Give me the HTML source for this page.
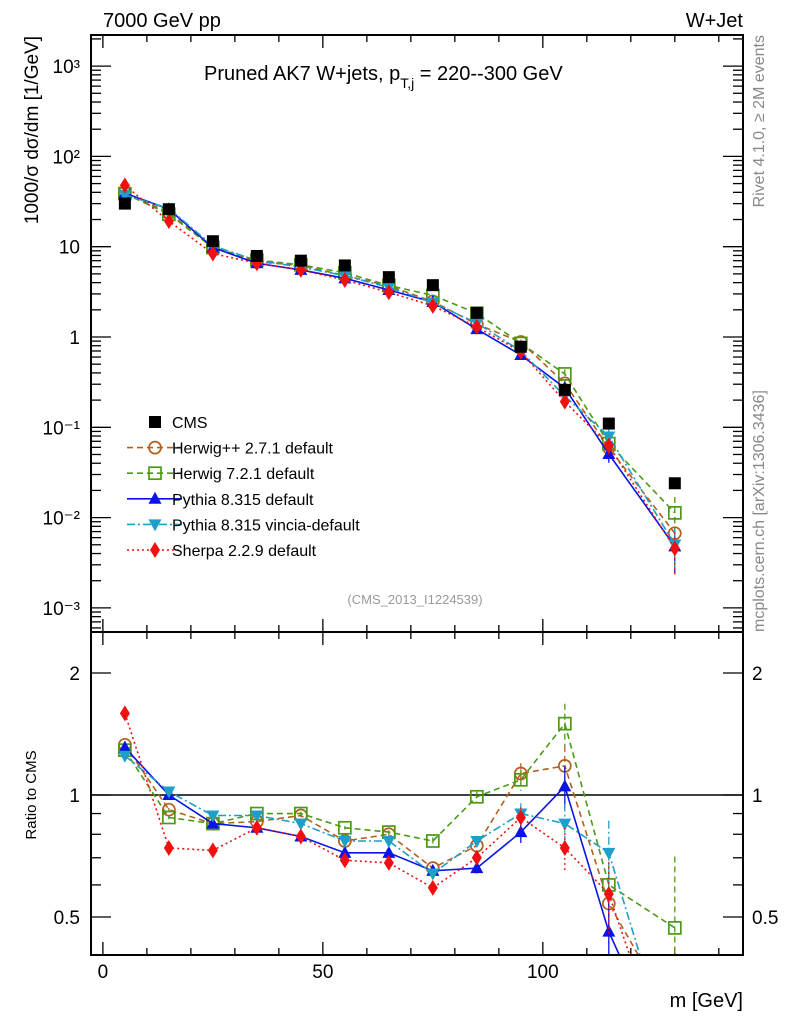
<!DOCTYPE html>
<html><head><meta charset="utf-8"><style>
html,body{margin:0;padding:0;background:#fff;width:786px;height:1024px;overflow:hidden;}
svg{display:block;font-family:"Liberation Sans",sans-serif;}
</style></head><body>
<svg id="c" width="786" height="1024" viewBox="0 0 786 1024">
<defs>
<clipPath id="mainClip"><rect x="91" y="35" width="652" height="597"/></clipPath>
<clipPath id="ratioClip"><rect x="91" y="632" width="652" height="323"/></clipPath>
</defs>
<text x="103" y="27" font-size="20">7000 GeV pp</text>
<text x="743" y="27" font-size="20" text-anchor="end">W+Jet</text>
<text x="204" y="80" font-size="20">Pruned AK7 W+jets, p<tspan font-size="14" dy="8">T,j</tspan><tspan dy="-8"> = 220--300 GeV</tspan></text>
<text transform="translate(764,35) rotate(-90)" font-size="16" fill="#888" text-anchor="end">Rivet 4.1.0, ≥ 2M events</text>
<text transform="translate(764,632) rotate(-90)" font-size="16" fill="#888">mcplots.cern.ch [arXiv:1306.3436]</text>
<text transform="translate(38,36) rotate(-90)" font-size="19" text-anchor="end">1000/σ  dσ/dm [1/GeV]</text>
<text transform="translate(36,795) rotate(-90)" font-size="15" text-anchor="middle">Ratio to CMS</text>
<text x="743" y="1007" font-size="20" text-anchor="end">m [GeV]</text>
<text x="415" y="604" font-size="13" fill="#999" text-anchor="middle">(CMS_2013_I1224539)</text>
<g id="axes"></g>
<g id="mainSeries" clip-path="url(#mainClip)"></g>
<g id="ratioSeries" clip-path="url(#ratioClip)"></g>
<g id="legend"></g>
<rect x="91" y="35" width="652" height="597" fill="none" stroke="#000" stroke-width="2"/>
<rect x="91" y="632" width="652" height="323" fill="none" stroke="#000" stroke-width="2"/>
</svg>
<script>
const bins = [5,15,25,35,45,55,65,75,85,95,105,115,130];
const cmsValues = [30,26,11.5,7.9,7.0,6.2,4.6,3.75,1.85,0.78,0.26,0.11,0.024];
const herwigppRatio = [1.33,0.92,0.85,0.86,0.89,0.77,0.80,0.66,0.75,1.13,1.18,0.54,0.28];
const herwig7Ratio = [1.29,0.88,0.85,0.90,0.90,0.83,0.81,0.77,0.99,1.09,1.50,0.60,0.47];
const pythiaRatio = [1.31,1.00,0.85,0.83,0.79,0.72,0.72,0.65,0.66,0.81,1.05,0.46,0.20];
const vinciaRatio = [1.25,1.02,0.89,0.89,0.85,0.77,0.77,0.64,0.77,0.90,0.85,0.72,0.21];
const sherpaRatio = [1.59,0.74,0.73,0.83,0.79,0.69,0.68,0.59,0.70,0.88,0.74,0.57,0.19];
const relErr = [0.01,0.01,0.01,0.01,0.01,0.01,0.01,0.02,0.03,0.06,0.12,0.2,0.5];
const legendLabels = ["CMS","Herwig++ 2.7.1 default","Herwig 7.2.1 default","Pythia 8.315 default","Pythia 8.315 vincia-default","Sherpa 2.2.9 default"];
const logTicks = [-3,-2,-1,0,1,2,3];
const logTickLabels = ["10⁻³","10⁻²","10⁻¹","1","10","10²","10³"];
const xTicks = [0,50,100];
const ratioTicks = [0.5,1,2];

const NS="http://www.w3.org/2000/svg";
const X0=91,X1=743,XMIN=-2.7,XMAX=145.5;
const sx=v=>X0+(v-XMIN)/(XMAX-XMIN)*(X1-X0);
const sy=v=>337-90.3*Math.log10(v);
const ry=r=>795-122*Math.log2(r);
const clamp=(v,a,b)=>Math.max(a,Math.min(b,v));
function el(tag,attrs,parent){const e=document.createElementNS(NS,tag);for(const k in attrs)e.setAttribute(k,attrs[k]);parent.appendChild(e);return e;}
const axes=document.getElementById('axes');

for(let v=0;v<=140;v+=10){
  const major=v%50===0, L=major?13:7, x=sx(v);
  for(const [yb,yt] of [[632,35],[955,632]]){
    let t=el('line',{x1:x,x2:x,y1:yb,y2:yb-L,stroke:'#000','stroke-width':1.3},axes);
    
    t=el('line',{x1:x,x2:x,y1:yt,y2:yt+L,stroke:'#000','stroke-width':1.3},axes);
    
  }
}
xTicks.forEach(v=>{const t=el('text',{x:sx(v),y:978,'font-size':19,'text-anchor':'middle'},axes);t.textContent=v;
  });
for(let d=-4;d<=3;d++){for(let k=1;k<10;k++){const v=k*Math.pow(10,d),y=sy(v);if(y<35||y>632)continue;
  const L=k===1?20:10;
  let t=el('line',{x1:X0,x2:X0+L,y1:y,y2:y,stroke:'#000','stroke-width':1.3},axes);
  
  t=el('line',{x1:X1,x2:X1-L,y1:y,y2:y,stroke:'#000','stroke-width':1.3},axes);
  }}
logTicks.forEach((d,i)=>{const t=el('text',{x:80,y:sy(Math.pow(10,d))+7,'font-size':19,'text-anchor':'end'},axes);t.textContent=logTickLabels[i];
  });
[0.5,0.6,0.7,0.8,0.9,1,2].forEach(r=>{const y=ry(r),L=ratioTicks.includes(r)?20:10;
  let t=el('line',{x1:X0,x2:X0+L,y1:y,y2:y,stroke:'#000','stroke-width':1.3},axes);
  
  t=el('line',{x1:X1,x2:X1-L,y1:y,y2:y,stroke:'#000','stroke-width':1.3},axes);
  });
ratioTicks.forEach(r=>{for(const [x,a] of [[80,'end'],[752,'start']]){const t=el('text',{x:x,y:ry(r)+7,'font-size':19,'text-anchor':a},axes);t.textContent=r;
  }});
const one=el('line',{x1:X0,x2:X1,y1:ry(1),y2:ry(1),stroke:'#000','stroke-width':1.5},axes);


function marker(g,type,color,x,y){
  let m;
  if(type==='sq') m=el('rect',{x:x-6,y:y-6,width:12,height:12,fill:'#000'},g);
  else if(type==='osq') m=el('rect',{x:x-6,y:y-6,width:12,height:12,fill:'none',stroke:color,'stroke-width':1.7},g);
  else if(type==='circ') m=el('circle',{cx:x,cy:y,r:6,fill:'none',stroke:color,'stroke-width':1.7},g);
  else if(type==='tri') m=el('polygon',{points:`${x},${y-7} ${x-6.5},${y+5} ${x+6.5},${y+5}`,fill:color},g);
  else if(type==='dtri') m=el('polygon',{points:`${x},${y+7} ${x-6.5},${y-5} ${x+6.5},${y-5}`,fill:color},g);
  else m=el('polygon',{points:`${x},${y-8} ${x-5},${y} ${x},${y+8} ${x+5},${y}`,fill:color},g);
  return m;
}
// clip a polyline's points vertically to [lo,hi] by interpolation
function clipPoints(pts,lo,hi){
  const out=[];
  for(let i=0;i<pts.length;i++){
    const [x,y]=pts[i];
    if(y>=lo&&y<=hi){out.push([x,y]);continue;}
    const lim=y>hi?hi+5:lo-5;
    if(i>0){const [px,py]=pts[i-1];if(py>=lo&&py<=hi){const t=(lim-py)/(y-py);out.push([px+t*(x-px),lim]);}}
    if(i<pts.length-1){const [nx,ny]=pts[i+1];if(ny>=lo&&ny<=hi){const t=(lim-ny)/(y-ny);out.push([nx+t*(x-nx),lim]);}}
  }
  return out;
}
const series=[
 {name:'herwigpp',ratio:herwigppRatio,color:'#b3601e',dash:'6,4',type:'circ'},
 {name:'herwig7',ratio:herwig7Ratio,color:'#4a9a14',dash:'6,4',type:'osq'},
 {name:'pythia',ratio:pythiaRatio,color:'#0a14e6',dash:'',type:'tri'},
 {name:'vincia',ratio:vinciaRatio,color:'#1e9ec8',dash:'8,3,2,3',type:'dtri'},
 {name:'sherpa',ratio:sherpaRatio,color:'#f01010',dash:'2,3',type:'dia'}];
const mg=document.getElementById('mainSeries'),rg=document.getElementById('ratioSeries');
series.forEach(s=>{
  for(const [g,f,lo,hi] of [[mg,i=>sy(cmsValues[i]*s.ratio[i]),35,632],[rg,i=>ry(s.ratio[i]),632,955]]){
    const raw=bins.map((b,i)=>[sx(b),f(i)]);
    const pts=clipPoints(raw,lo,hi).map(p=>p[0]+','+p[1]).join(' ');
    const pl=el('polyline',{points:pts,fill:'none',stroke:s.color,'stroke-width':1.6,'stroke-dasharray':s.dash},g);
    
    bins.forEach((b,i)=>{
      const v=g===mg?cmsValues[i]*s.ratio[i]:s.ratio[i],e=relErr[i];
      const scale=g===mg?sy:ry;
      const ya=clamp(scale(v*(1+e)),lo,hi), yb=clamp(scale(Math.max(v*(1-e),1e-6)),lo,hi);
      const eb=el('line',{x1:sx(b),x2:sx(b),y1:ya,y2:yb,stroke:s.color,'stroke-width':1.3,'stroke-dasharray':s.dash},g);
      
      const yy=f(i);
      if(yy>lo-10&&yy<hi+10){const m=marker(g,s.type,s.color,sx(b),yy);
      }
    });
  }
});
bins.forEach((b,i)=>{const m=marker(mg,'sq','#000',sx(b),sy(cmsValues[i]));
  });
const lg=document.getElementById('legend');
legendLabels.forEach((lab,i)=>{const y=422+i*25.6;
  const g=el('g',{},lg);
  if(i===0) marker(g,'sq','#000',155,y);
  else{const s=series[i-1];el('line',{x1:127,x2:182,y1:y,y2:y,stroke:s.color,'stroke-width':1.6,'stroke-dasharray':s.dash},g);marker(g,s.type,s.color,155,y);}
  const t=el('text',{x:172,y:y+6,'font-size':16},g);t.textContent=lab;});
</script>
</body></html>
